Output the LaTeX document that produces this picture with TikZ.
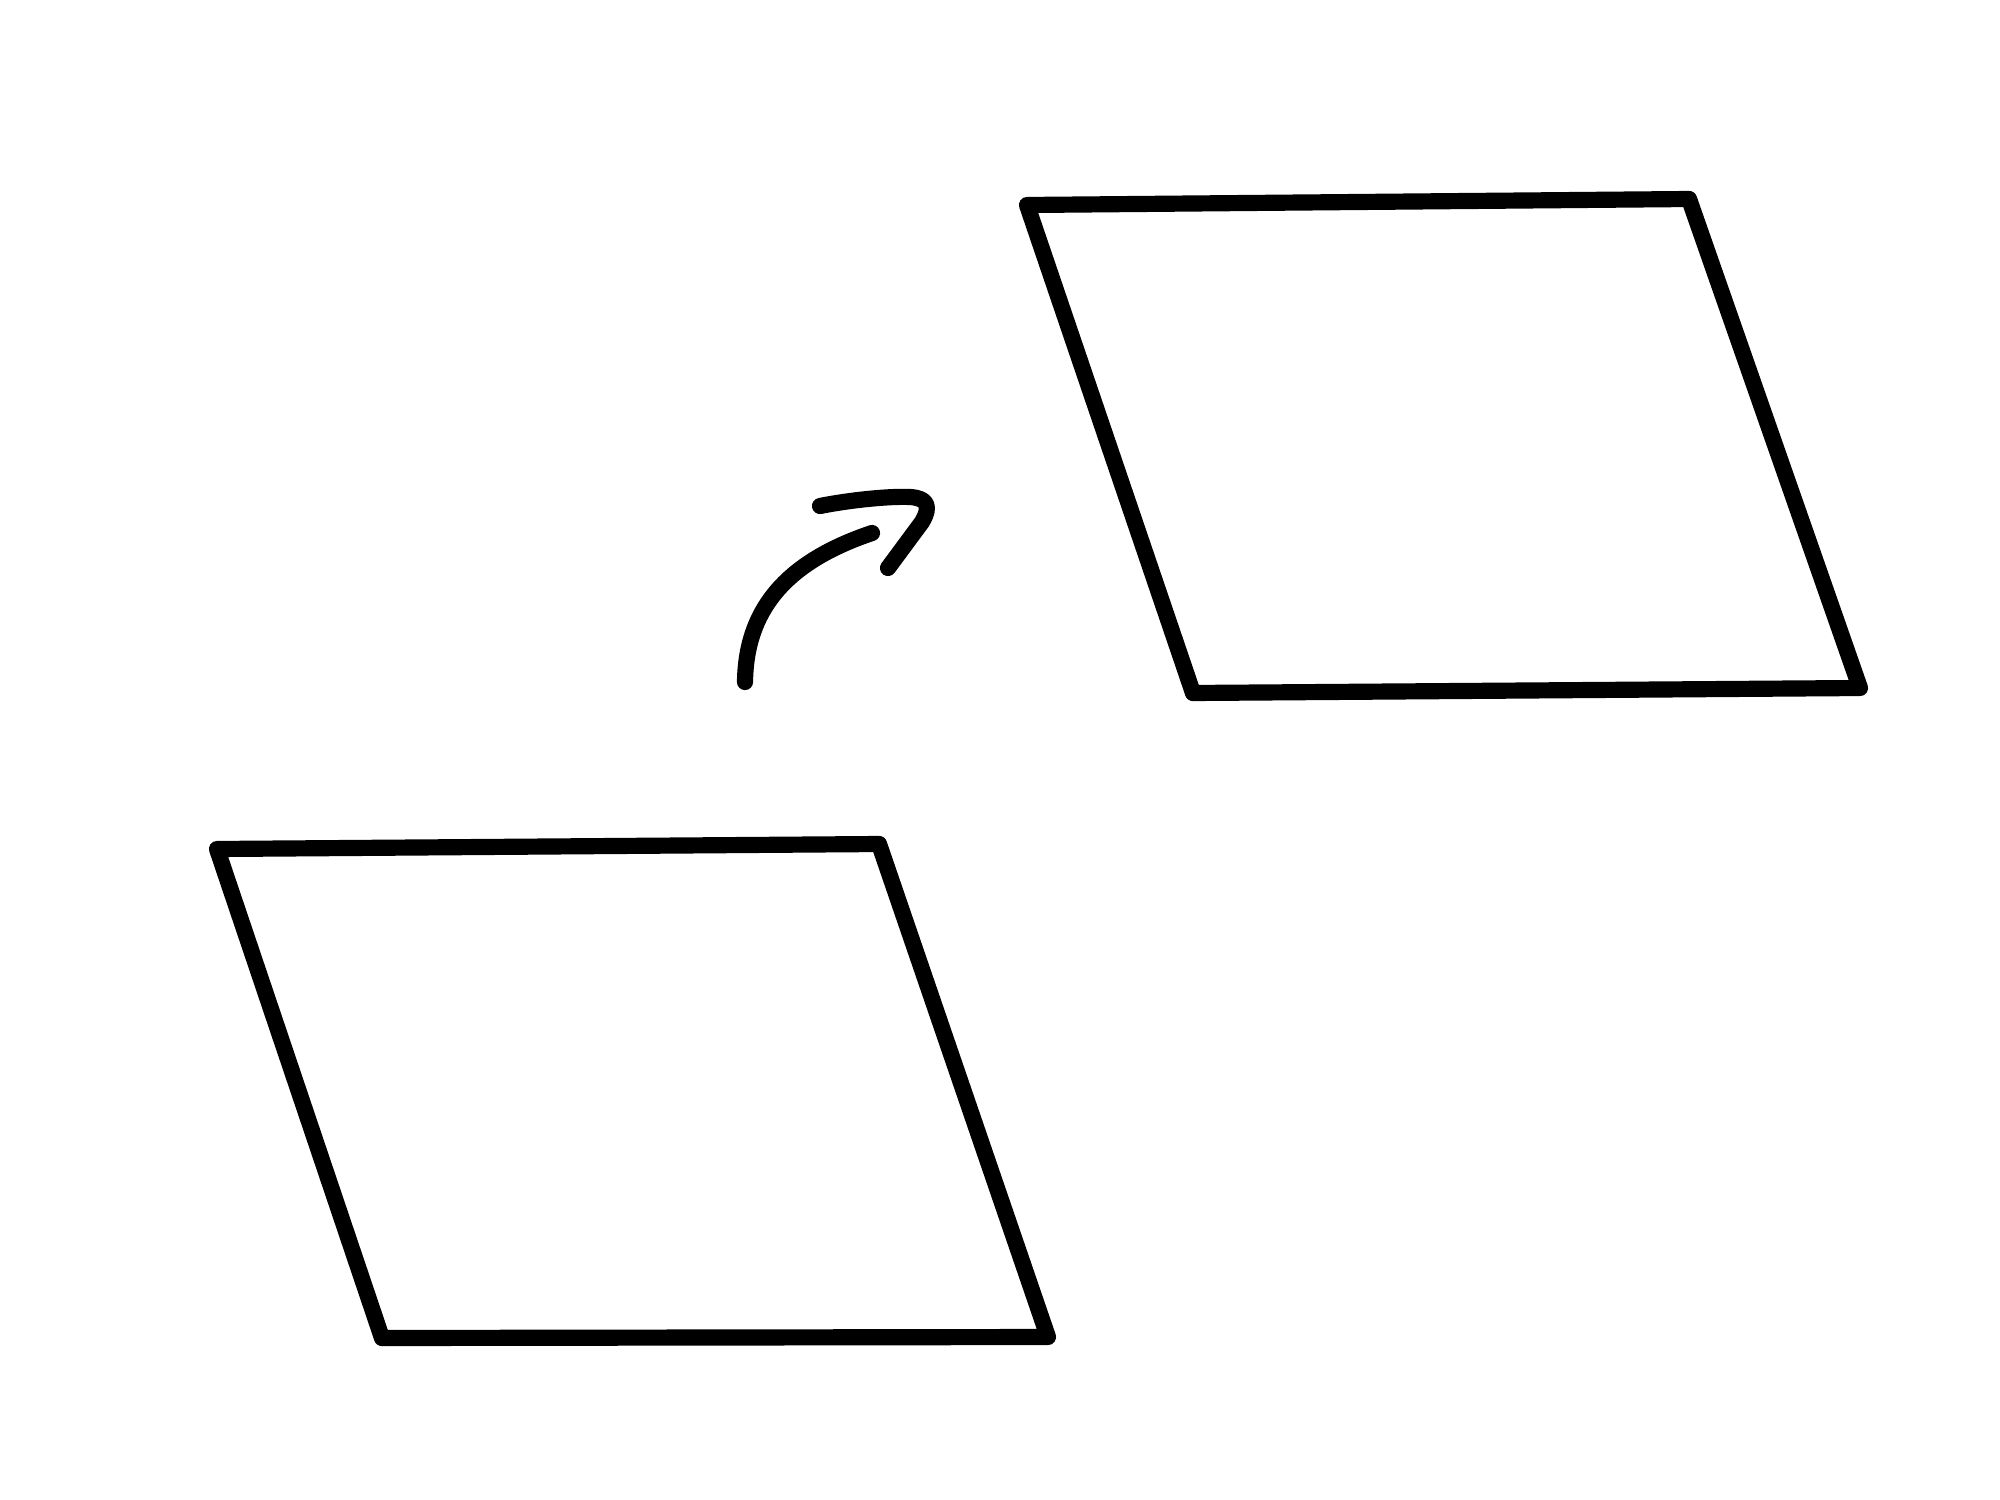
\documentclass[tikz,border=0pt]{standalone}
\begin{document}
\begin{tikzpicture}[x=0.01cm,y=-0.01cm,
  edge/.style={line width=4.6pt,line join=round,line cap=round,black},
  stroke/.style={line width=4.6pt,line cap=round,line join=round,black}]
\useasboundingbox[fill=white] (0,0) rectangle (2000,1500);
% top-right parallelogram
\coordinate (a1) at (1027,205);
\coordinate (a2) at (1689,199);
\coordinate (a3) at (1860,688);
\coordinate (a4) at (1193,693);
\draw[edge] (a1) -- (a2) -- (a3) -- (a4) -- cycle;
% bottom-left parallelogram
\coordinate (b1) at (217,849);
\coordinate (b2) at (879,844);
\coordinate (b3) at (1048,1337);
\coordinate (b4) at (382,1338);
\draw[edge] (b1) -- (b2) -- (b3) -- (b4) -- cycle;
% arrow
\coordinate (s0) at (745,682);
\coordinate (s1) at (872,533);
\draw[stroke] (s0) .. controls (746,612) and (783,563) .. (s1);
\coordinate (h0) at (820,506);
\coordinate (h2) at (888,568);
\draw[stroke] (h0) .. controls (850,500) and (890,496) .. (910,497)
  .. controls (926,498) and (932,505) .. (922,522) -- (h2);
\end{tikzpicture}
\end{document}
